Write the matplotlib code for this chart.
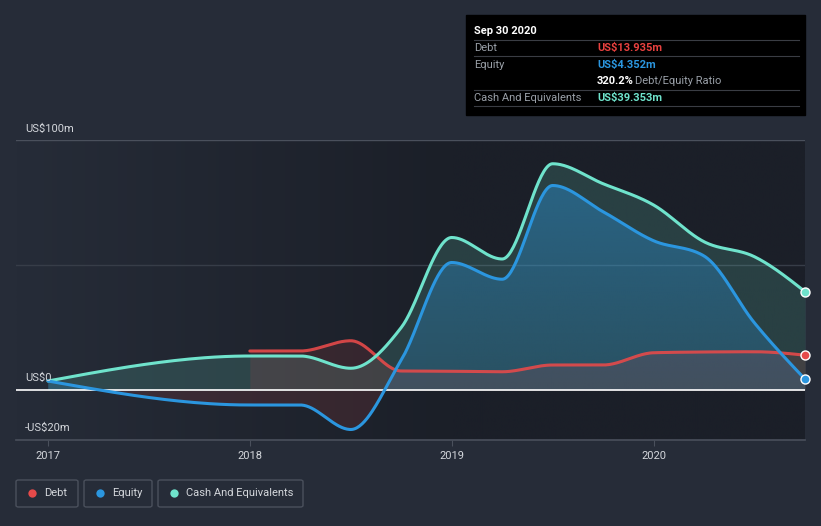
import matplotlib
matplotlib.use("Agg")
import matplotlib.pyplot as plt
from matplotlib.patches import FancyBboxPatch, Rectangle
from matplotlib.colors import LinearSegmentedColormap, to_rgb
import numpy as np

plt.rcParams['font.family'] = ['Roboto', 'DejaVu Sans']

# data (US$ m), quarterly after 2018
cash_x = [2017.0, 2018.0, 2018.25, 2018.5, 2018.75, 2019.0, 2019.25, 2019.5, 2019.75, 2020.0, 2020.25, 2020.5, 2020.75]
cash = [3.6, 13.6, 13.6, 8.7, 25.0, 61.0, 52.4, 90.5, 82.5, 74.0, 59.3, 53.3, 39.353]
equity_x = cash_x
equity = [3.6, -6.0, -6.0, -15.8, 12.0, 51.0, 44.3, 81.8, 71.3, 59.7, 53.6, 26.8, 4.352]
debt_x = [2018.0, 2018.25, 2018.5, 2018.75, 2019.0, 2019.25, 2019.5, 2019.75, 2020.0, 2020.25, 2020.5, 2020.75]
debt = [15.6, 15.6, 19.7, 7.6, 7.5, 7.3, 10.0, 10.0, 14.9, 15.2, 15.3, 13.935]

years = [2017, 2018, 2019, 2020]

BG = '#262c38'
DEBT_C = '#e64a4a'
EQ_C = '#2b96df'
CASH_C = '#6fe3cc'
TXT = '#d4d7dc'


def monotone(x, y, n=40):
    # monotone cubic like d3.curveMonotoneX
    x = np.asarray(x, float)
    y = np.asarray(y, float)
    h = np.diff(x)
    s = np.diff(y) / h
    t = np.zeros(len(x))
    for i in range(1, len(x) - 1):
        p = (s[i - 1] * h[i] + s[i] * h[i - 1]) / (h[i - 1] + h[i])
        t[i] = (np.sign(s[i - 1]) + np.sign(s[i])) * min(abs(s[i - 1]), abs(s[i]), 0.5 * abs(p))
    t[0] = (3 * s[0] - t[1]) / 2
    t[-1] = (3 * s[-1] - t[-2]) / 2
    xs, ys = [], []
    for i in range(len(x) - 1):
        u = np.linspace(0, 1, n, endpoint=(i == len(x) - 2))
        h00 = 2 * u**3 - 3 * u**2 + 1
        h10 = u**3 - 2 * u**2 + u
        h01 = -2 * u**3 + 3 * u**2
        h11 = u**3 - u**2
        xs.append(x[i] + u * h[i])
        ys.append(h00 * y[i] + h10 * h[i] * t[i] + h01 * y[i + 1] + h11 * h[i] * t[i + 1])
    return np.concatenate(xs), np.concatenate(ys)


W, H = 821, 526
fig = plt.figure(figsize=(W / 100, H / 100), dpi=100, facecolor=BG)

left_px, right_px, top_px, bot_px = 16, 805, 140, 440
ax = fig.add_axes([left_px / W, 1 - bot_px / H, (right_px - left_px) / W, (bot_px - top_px) / H])
ax.set_facecolor('none')
x0 = 2017 - 32 / 202
x1 = 2020.75
ax.set_xlim(x0, x1)
ax.set_ylim(-20, 100)

# background gradient, darker to the right
grad = np.clip(np.linspace(0, 1.8, 400), 0, 1)[None, :]
cmap = LinearSegmentedColormap.from_list('bg', [BG, '#1b1f28'])
ax.imshow(grad, cmap=cmap, aspect='auto', extent=[x0, x1, -20, 100], zorder=0)

for gy in [100, 50]:
    ax.axhline(gy, color='#4a505c' if gy == 100 else '#373d48', lw=1, zorder=1)

cx, cy = monotone(cash_x, cash)
ex, ey = monotone(equity_x, equity)
dx, dy = monotone(debt_x, debt)

ax.fill_between(cx, cy, 0, color=CASH_C, alpha=0.17, lw=0, zorder=2)

# equity fill with vertical gradient
eq_poly = ax.fill_between(ex, np.maximum(ey, 0), 0, color='none', lw=0, zorder=3)
rgba = np.zeros((256, 1, 4))
rgba[:, 0, :3] = to_rgb(EQ_C)
rgba[:, 0, 3] = np.linspace(0.42, 0.2, 256)
im = ax.imshow(rgba, aspect='auto', extent=[x0, x1, 0, 85], origin='upper', zorder=3)
im.set_clip_path(eq_poly.get_paths()[0], transform=ax.transData)
ax.set_xlim(x0, x1)
ax.set_ylim(-20, 100)

ax.fill_between(ex, ey, 0, where=ey <= 0, interpolate=True, color=DEBT_C, alpha=0.13, lw=0, zorder=3)
ax.fill_between(dx, dy, 0, color=DEBT_C, alpha=0.13, lw=0, zorder=3)

ax.axhline(0, color='white', lw=1.2, zorder=4)

ax.plot(dx, dy, color=DEBT_C, lw=2.2, zorder=5, solid_capstyle='round', alpha=0.9)
ax.plot(cx, cy, color=CASH_C, lw=2.2, zorder=6, solid_capstyle='round')
ax.plot(ex, ey, color=EQ_C, lw=2.2, zorder=7, solid_capstyle='round')

for xs_, ys_, c in [(debt_x, debt, DEBT_C), (cash_x, cash, CASH_C), (equity_x, equity, EQ_C)]:
    ax.plot(xs_[-1], ys_[-1], 'o', ms=6.5, color=c, mec='white', mew=1, zorder=8, clip_on=False)

for sp in ['top', 'right', 'left']:
    ax.spines[sp].set_visible(False)
ax.spines['bottom'].set_color('#4a505c')
ax.spines['bottom'].set_linewidth(1.2)
ax.set_yticks([])
ax.set_xticks(years)
ax.set_xticklabels([str(y) for y in years])
ax.tick_params(axis='x', colors='#4a505c', labelcolor=TXT, labelsize=8, length=4, pad=4)

# y labels
for val, ypx in [('US$100m', 129), ('US$0', 378), ('-US$20m', 428)]:
    fig.text(25 / W, 1 - ypx / H, val, color=TXT, fontsize=8, va='center', ha='left')

# tooltip box
fig.patches.append(Rectangle((466 / W, 1 - 115 / H), 339 / W, 100 / H, transform=fig.transFigure,
                             color='black', zorder=10))
fig.text(474 / W, 1 - 31 / H, 'Sep 30 2020', color='white', fontsize=8, fontweight='bold', va='center', zorder=11)
for ly in [40, 56, 90, 106]:
    fig.add_artist(plt.Line2D([474 / W, 799 / W], [1 - ly / H, 1 - ly / H], color='#3a3d44', lw=0.8, zorder=11))
rows = [('Debt', 'US$13.935m', '#e8413f', 48), ('Equity', 'US$4.352m', '#2b96df', 65),
        ('Cash And Equivalents', 'US$39.353m', '#6fe3cc', 98)]
for lab, v, c, ry in rows:
    fig.text(474 / W, 1 - ry / H, lab, color='#9aa0a8', fontsize=8, va='center', zorder=11)
    fig.text(597 / W, 1 - ry / H, v, color=c, fontsize=8, fontweight='bold', va='center', zorder=11)
fig.text(597 / W, 1 - 81 / H, '320.2%', color='white', fontsize=8, fontweight='bold', va='center', zorder=11)
fig.text(635 / W, 1 - 81 / H, 'Debt/Equity Ratio', color='#9aa0a8', fontsize=8, va='center', zorder=11)

# legend
legend = [('Debt', DEBT_C, 16, 78), ('Equity', EQ_C, 84, 152), ('Cash And Equivalents', CASH_C, 158, 303)]
for lab, c, bx0, bx1 in legend:
    fig.patches.append(FancyBboxPatch((bx0 / W, 1 - 507 / H), (bx1 - bx0) / W, 27 / H,
                                      boxstyle='round,pad=0,rounding_size=0.003', transform=fig.transFigure,
                                      fc='none', ec='#4a505c', lw=1))
    fig.add_artist(plt.Line2D([(bx0 + 15.5) / W], [1 - 493 / H], marker='o', ms=6, color=c, mew=0))
    fig.text((bx0 + 28) / W, 1 - 493 / H, lab, color=TXT, fontsize=8, va='center')

fig.savefig('out.png', dpi=100, facecolor=BG)
